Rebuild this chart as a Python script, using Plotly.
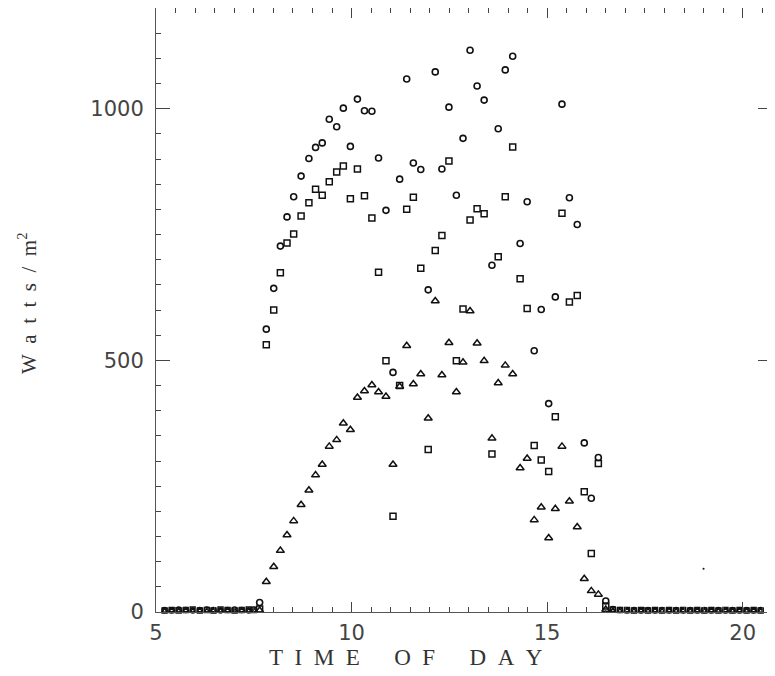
import plotly.graph_objects as go

# Time of day (hours)
time_day = [7.65, 7.82, 8.01, 8.18, 8.35, 8.52, 8.71, 8.91, 9.08, 9.25,
            9.43, 9.62, 9.79, 9.97, 10.15, 10.33, 10.52, 10.69, 10.88, 11.06,
            11.23, 11.41, 11.58, 11.77, 11.96, 12.14, 12.31, 12.49, 12.68, 12.85,
            13.03, 13.21, 13.39, 13.59, 13.75, 13.93, 14.12, 14.31, 14.49, 14.67,
            14.85, 15.04, 15.21, 15.38, 15.57, 15.77, 15.95, 16.13, 16.31, 16.50]

circle_vals = [19, 562, 643, 727, 785, 825, 866, 901, 923, 932,
               979, 964, 1001, 925, 1019, 996, 995, 902, 798, 476,
               860, 1059, 892, 879, 640, 1073, 880, 1003, 828, 941,
               1116, 1045, 1017, 689, 960, 1077, 1104, 732, 815, 519,
               601, 414, 626, 1009, 823, 770, 336, 226, 307, 22]

square_vals = [6, 531, 600, 674, 733, 751, 787, 813, 840, 828,
               855, 874, 886, 821, 880, 827, 783, 675, 499, 190,
               450, 800, 824, 683, 323, 718, 748, 896, 499, 602,
               779, 801, 791, 314, 706, 825, 924, 662, 603, 331,
               302, 279, 388, 792, 616, 629, 239, 116, 295, 12]

triangle_vals = [3, 60, 90, 122, 153, 181, 213, 242, 272, 293,
                 329, 342, 375, 362, 426, 439, 451, 437, 428, 293,
                 448, 529, 453, 473, 385, 618, 471, 535, 437, 496,
                 598, 534, 499, 345, 455, 490, 473, 286, 305, 183,
                 208, 147, 205, 329, 220, 169, 66, 42, 35, 5]

# night-time readings (near zero)
night_time = [5.22, 5.40, 5.58, 5.76, 5.94, 6.12, 6.30, 6.47, 6.65, 6.83,
              7.01, 7.19, 7.37, 7.50,
              16.68, 16.86, 17.04, 17.22, 17.40, 17.58, 17.76, 17.94, 18.12, 18.30,
              18.48, 18.66, 18.84, 19.02, 19.20, 19.38, 19.56, 19.74, 19.92, 20.10,
              20.28, 20.46]
night_circle = [4, 3, 5, 4, 3, 4, 5, 4, 3, 4, 5, 4, 3, 5,
                6, 4, 3, 4, 3, 4, 3, 4, 3, 4, 3, 4, 3, 4, 3, 4, 3, 4, 3, 4, 3, 4]
night_square = [3, 4, 3, 4, 5, 3, 4, 3, 5, 4, 3, 4, 5, 4,
                5, 4, 4, 3, 4, 3, 4, 3, 4, 3, 4, 3, 4, 3, 4, 3, 4, 3, 4, 3, 4, 3]
night_triangle = [2, 3, 2, 3, 2, 3, 2, 3, 2, 3, 2, 3, 2, 3,
                  3, 2, 3, 2, 3, 2, 3, 2, 3, 2, 3, 2, 3, 2, 3, 2, 3, 2, 3, 2, 3, 2]

# isolated speck seen in the evening
speck_time = [19.0]
speck_vals = [86]

x_ticks = [5, 10, 15, 20]
y_ticks = [0, 500, 1000]

fig = go.Figure()

def add(xs, ys, symbol, size, width=1.4):
    fig.add_trace(go.Scatter(
        x=xs, y=ys, mode="markers", cliponaxis=False, showlegend=False,
        marker=dict(symbol=symbol, size=size, color="#111",
                    line=dict(color="#111", width=width))))

add(time_day, circle_vals, "circle-open", 6, 1.6)
add(time_day, square_vals, "square-open", 6, 1.5)
add(time_day, triangle_vals, "triangle-up-open", 7, 1.5)
add(night_time, night_circle, "circle-open", 5)
add(night_time, night_square, "square-open", 5)
add(night_time, night_triangle, "triangle-up-open", 5)
add(speck_time, speck_vals, "circle", 2, 0)

tickfont = dict(family="DejaVu Sans", size=21, color="#444")

fig.update_xaxes(
    range=[5, 20.75], tickvals=x_ticks, ticktext=[str(v) for v in x_ticks],
    ticks="inside", ticklen=10, tickwidth=1, tickcolor="#444",
    minor=dict(dtick=0.5, ticks="inside", ticklen=5, tickcolor="#444", showgrid=False),
    showline=True, linecolor="#555", linewidth=1, mirror="allticks",
    showgrid=False, zeroline=False, tickfont=tickfont, ticklabelstandoff=2)

fig.update_yaxes(
    range=[0, 1200], tickvals=y_ticks, ticktext=[str(v) for v in y_ticks],
    ticks="inside", ticklen=14, tickwidth=1, tickcolor="#444",
    minor=dict(dtick=50, ticks="inside", ticklen=5, tickcolor="#444", showgrid=False),
    showline=True, linecolor="#555", linewidth=1, mirror="allticks",
    showgrid=False, zeroline=False, tickfont=tickfont, ticklabelstandoff=7)

nb = "\u00a0"
xtitle = (nb * 2).join("TIME") + nb * 6 + (nb * 2).join("OF") + nb * 6 + (nb * 2).join("DAY")
ytitle = (nb * 2).join("Watts") + nb * 2 + "/" + nb * 2 + "m<sup>2</sup>"

L, T, W, H = 148, 0, 616, 604

fig.add_annotation(text=xtitle, xref="paper", yref="paper",
                   x=(398 - L) / W, y=(H - 649) / H,
                   showarrow=False, xanchor="center", yanchor="middle",
                   font=dict(family="Liberation Serif", size=23, color="#333"))
fig.add_annotation(text=ytitle, xref="paper", yref="paper",
                   x=(19 - L) / W, y=(H - 295) / H, textangle=-90,
                   showarrow=False, xanchor="center", yanchor="middle",
                   font=dict(family="Liberation Serif", size=21, color="#333"))

fig.update_layout(
    width=775, height=676,
    margin=dict(l=L, r=775 - L - W, t=T, b=676 - T - H),
    paper_bgcolor="white", plot_bgcolor="white")

fig.write_html("out.html")
